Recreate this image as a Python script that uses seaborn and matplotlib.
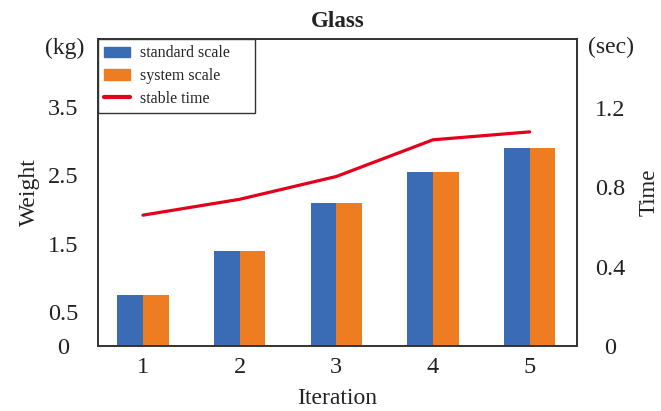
import numpy as np
import pandas as pd
import seaborn as sns
import matplotlib
matplotlib.use("Agg")
import matplotlib.pyplot as plt
from matplotlib.patches import Patch
from matplotlib.lines import Line2D

# data
iterations = ["1", "2", "3", "4", "5"]
standard_scale = [0.75, 1.40, 2.10, 2.55, 2.90]
system_scale = [0.75, 1.40, 2.10, 2.55, 2.90]
stable_time = [0.66, 0.74, 0.855, 1.04, 1.08]
left_ticks = [0, 0.5, 1.5, 2.5, 3.5]
left_ticklabels = ["0", "0.5", "1.5", "2.5", "3.5"]
right_ticks = [0, 0.4, 0.8, 1.2]
right_ticklabels = ["0", "0.4", "0.8", "1.2"]

sns.set_theme(style="white")
plt.rcParams["font.family"] = ["Liberation Serif", "DejaVu Serif"]

c_blue = "#3A6CB5"
c_orange = "#EE7D22"
c_red = "#E2001A"
spine_c = "#333333"

df = pd.DataFrame({
    "Iteration": iterations * 2,
    "Weight": standard_scale + system_scale,
    "scale": ["standard scale"] * len(iterations) + ["system scale"] * len(iterations),
})

fig = plt.figure(figsize=(6.61, 4.11), dpi=100)
ax = fig.add_axes([0.1483, 0.158, 0.7247, 0.747])

sns.barplot(data=df, x="Iteration", y="Weight", hue="scale",
            palette=[c_blue, c_orange], width=0.53, gap=0, saturation=1,
            linewidth=0, ax=ax, legend=False)

ax2 = ax.twinx()
pos = np.arange(len(iterations))
sns.lineplot(x=pos, y=stable_time, color=c_red, lw=2.3, ax=ax2)

ax.set_xlim(-0.465, 4.49)
ax.set_ylim(0, 4.5)
ax2.set_ylim(0, 1.548)

ax.set_yticks(left_ticks)
ax.set_yticklabels(left_ticklabels)
ax2.set_yticks(right_ticks)
ax2.set_yticklabels(right_ticklabels)

ax.tick_params(axis="both", length=0, labelsize=17.5, colors="#222222")
ax.tick_params(axis="x", pad=8)
ax.tick_params(axis="y", pad=25)
for t in ax.get_yticklabels():
    t.set_horizontalalignment("center")
ax2.tick_params(axis="y", length=0, labelsize=17.5, pad=24, colors="#222222")
for t in ax2.get_yticklabels():
    t.set_horizontalalignment("center")

for a in (ax, ax2):
    for s in a.spines.values():
        s.set_color(spine_c)
        s.set_linewidth(1.2)
    a.grid(False)

ax.set_xlabel("Iteration", fontsize=17, color="#222222")
ax.xaxis.set_label_coords(0.5, -0.137)
ax.set_ylabel("Weight", fontsize=17, color="#222222")
ax.yaxis.set_label_coords(-0.121, 0.5)
ax2.set_ylabel("Time", fontsize=16.5, color="#222222")
ax2.yaxis.set_label_coords(1.129, 0.5)

ax.text(-0.069, 0.971, "(kg)", transform=ax.transAxes, fontsize=17,
        ha="center", va="center", color="#222222")
ax.text(1.071, 0.971, "(sec)", transform=ax.transAxes, fontsize=17,
        ha="center", va="center", color="#222222")
ax.set_title("Glass", fontsize=16.5, fontweight="bold", pad=9, color="#222222")

handles = [Patch(color=c_blue), Patch(color=c_orange), Line2D([0], [0], color=c_red, lw=3)]
labels = ["standard scale", "system scale", "stable time"]
leg = ax2.legend(handles, labels, loc="upper left", bbox_to_anchor=(0, 0, 0.328, 1),
                 mode="expand", borderaxespad=0, fontsize=11.5, fancybox=False,
                 framealpha=1, handlelength=1.6, handleheight=0.6, handletextpad=0.65,
                 labelspacing=0.42, borderpad=0.4)
leg.get_frame().set_edgecolor(spine_c)
leg.get_frame().set_linewidth(1.0)

fig.savefig("out.png", dpi=100)
